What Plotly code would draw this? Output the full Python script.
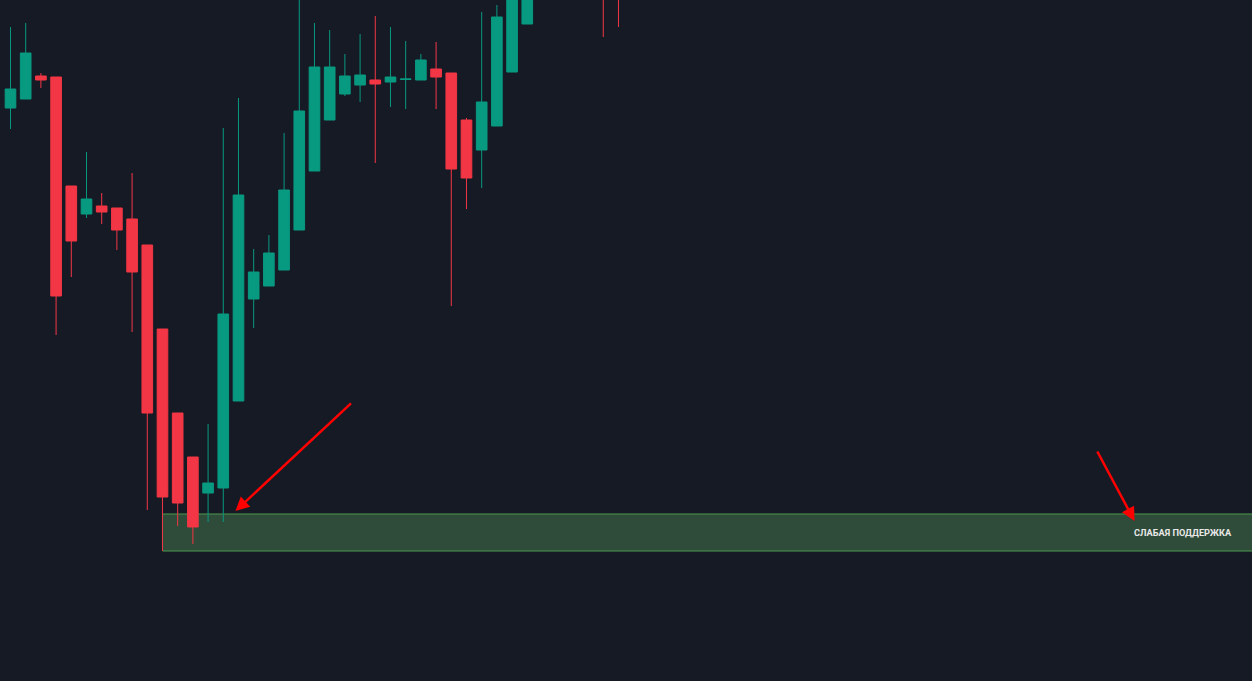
import plotly.graph_objects as go

# OHLC values (arbitrary price units)
opens  = [59.2, 60.1, 62.4, 62.3, 51.4, 48.6, 49.4, 49.2, 48.1, 45.5,
          37.1, 28.7, 24.3, 20.7, 21.2, 29.9, 40.1, 41.4, 43.0, 47.0,
          52.9, 58.0, 60.6, 61.5, 62.0, 61.8, 62.05, 62.0, 63.1, 62.7,
          58.0, 55.0, 57.4, 62.8, 67.6, 73.5, 75.2, 77.1, 74.8, 76.3, 73.0]
highs  = [67.3, 67.7, 62.7, 62.3, 51.4, 54.8, 50.7, 49.2, 52.7, 45.5,
          37.1, 28.7, 24.3, 27.6, 57.2, 60.2, 45.1, 46.5, 56.7, 71.0,
          67.7, 67.0, 64.6, 66.6, 68.4, 67.3, 65.9, 64.6, 65.8, 62.7,
          58.2, 68.8, 69.5, 74.0, 75.0, 76.0, 78.0, 78.5, 77.0, 77.0, 74.5]
lows   = [57.1, 60.1, 61.2, 36.5, 42.3, 48.2, 47.6, 45.0, 36.8, 19.0,
          14.9, 17.4, 15.6, 17.8, 17.8, 29.9, 37.2, 41.4, 43.0, 47.0,
          52.9, 58.0, 60.4, 59.8, 53.7, 59.3, 59.1, 62.0, 59.1, 39.4,
          49.1, 51.2, 57.4, 62.8, 67.6, 71.5, 73.8, 74.0, 72.5, 66.3, 67.3]
closes = [61.1, 64.7, 62.0, 40.4, 45.9, 50.1, 48.8, 47.0, 42.8, 28.7,
          20.3, 19.7, 17.3, 21.7, 38.6, 50.5, 42.8, 44.7, 51.0, 58.9,
          63.3, 63.3, 62.4, 62.5, 61.6, 62.3, 62.1, 64.0, 62.3, 53.1,
          52.2, 59.8, 68.3, 72.0, 73.5, 75.2, 77.1, 74.8, 76.3, 71.2, 70.6]
idx = list(range(len(opens)))

# Support zone
zone_start = 10
zone_top = 18.6
zone_bottom = 14.9
zone_label = "СЛАБАЯ ПОДДЕРЖКА"

# Arrows: (tail_x, tail_y, head_x, head_y)
arrows = [(22.5, 29.8, 14.8, 18.9), (71.45, 25.0, 73.95, 17.9)]

BG = "#161a25"
GREEN = "#089981"
RED = "#f23645"

fig = go.Figure()
fig.add_trace(go.Candlestick(
    x=idx, open=opens, high=highs, low=lows, close=closes,
    increasing=dict(line=dict(color=GREEN, width=1), fillcolor=GREEN),
    decreasing=dict(line=dict(color=RED, width=1), fillcolor=RED),
    whiskerwidth=0, hoverinfo="skip", showlegend=False,
))

fig.add_shape(type="rect", xref="x", yref="y",
              x0=zone_start, x1=90, y0=zone_bottom, y1=zone_top,
              fillcolor="#2f4b39", line=dict(color="#4a9a4c", width=1),
              layer="below")

for tx, ty, hx, hy in arrows:
    fig.add_annotation(x=hx, y=hy, ax=tx, ay=ty, xref="x", yref="y",
                       axref="x", ayref="y", text="", showarrow=True,
                       arrowhead=2, arrowsize=1.1, arrowwidth=2.5,
                       arrowcolor="#ff0000")

fig.add_annotation(x=77.15, y=(zone_top + zone_bottom) / 2, xref="x", yref="y",
                   text="<b>" + zone_label + "</b>", showarrow=False,
                   font=dict(family="Roboto", size=9.2, color="#e8e8e8"))

fig.update_layout(
    width=1252, height=681,
    margin=dict(l=0, r=0, t=0, b=0),
    paper_bgcolor=BG, plot_bgcolor=BG,
    boxgap=0.3, boxgroupgap=0,
    hovermode=False,
    xaxis=dict(range=[-0.69, 81.68], visible=False, showgrid=False,
               rangeslider=dict(visible=False)),
    yaxis=dict(range=[1.9, 70.0], visible=False, showgrid=False),
)

fig.write_html(
    "out.html",
    config={"displayModeBar": False},
    post_script="document.body.style.margin='0';"
                "document.body.style.background='#161a25';"
                "document.body.style.overflow='hidden';",
)
